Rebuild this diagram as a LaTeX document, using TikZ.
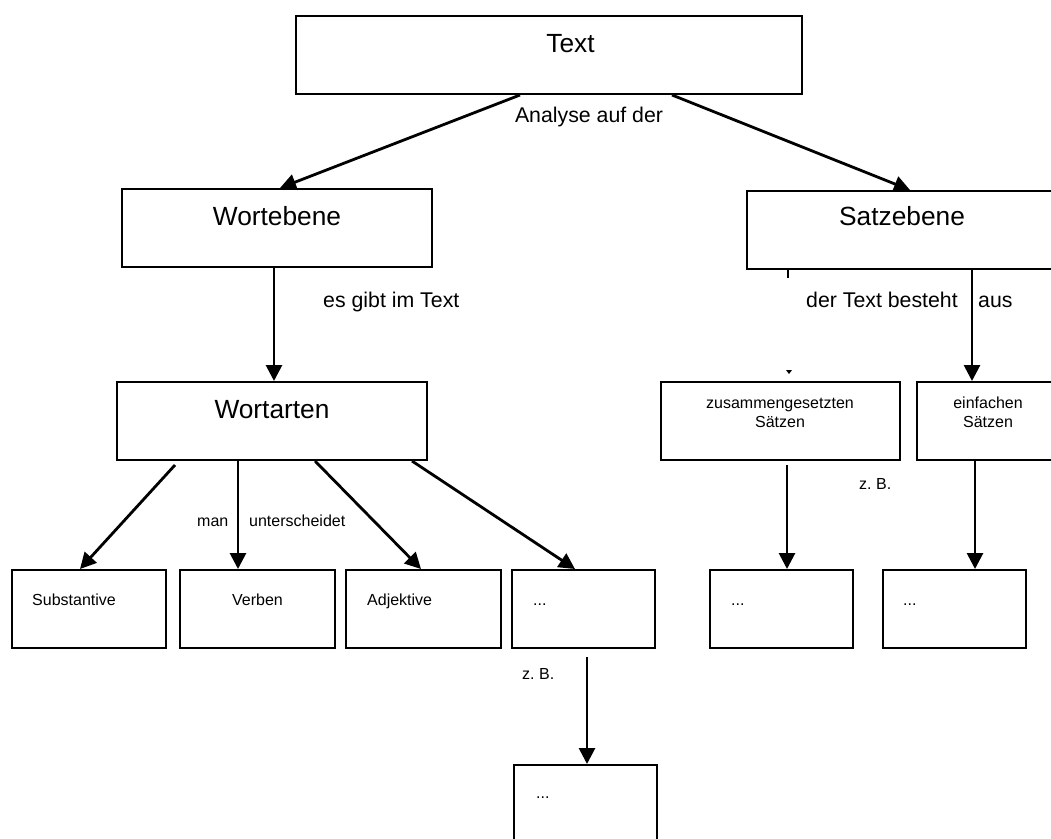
\documentclass[tikz,border=0pt]{standalone}
\usepackage{fontspec}
\setmainfont{Liberation Sans}
\usetikzlibrary{arrows.meta}

\tikzset{
  box/.style={draw, line width=2pt, rectangle, inner sep=0pt, minimum height=78pt},
  conn/.style={line width=2.8pt, -{Triangle[length=16pt,width=16pt]}},
  big/.style={font=\fontsize{26.3}{30}\selectfont, anchor=base, inner sep=0pt},
  mid/.style={font=\fontsize{21.3}{25}\selectfont, anchor=base west, inner sep=0pt},
  small/.style={font=\fontsize{16}{19}\selectfont, anchor=base west, inner sep=0pt},
}

\begin{document}
\begin{tikzpicture}[x=1pt, y=-1pt]
  \clip (0,0) rectangle (1051,838);
  \fill[white] (0,0) rectangle (1051,838);

  % boxes
  \node[box, minimum width=506pt] (text) at (549,55) {};
  \node[box, minimum width=310pt] (wortebene) at (277,228) {};
  \node[box, minimum width=311pt] (satz) at (902.5,230) {};
  \node[box, minimum width=310pt] (wortarten) at (272,421) {};
  \node[box, minimum width=239pt] (zus) at (780.5,421) {};
  \node[box, minimum width=142pt] (einf) at (988,421) {};
  \node[box, minimum width=154pt] (subst) at (89,609) {};
  \node[box, minimum width=155pt] (verben) at (257.5,609) {};
  \node[box, minimum width=155pt] (adj) at (423.5,609) {};
  \node[box, minimum width=143pt] (dotsA) at (583.5,609) {};
  \node[box, minimum width=143pt] (dotsB) at (781.5,609) {};
  \node[box, minimum width=143pt] (dotsC) at (954.5,609) {};
  \node[box, minimum width=143pt] (dotsD) at (585.5,804) {};

  % box texts
  \node[big] (tText) at (570.5,52) {Text};
  \node[big] (tWortebene) at (277,225) {Wortebene};
  \node[big] (tSatz) at (902,225) {Satzebene};
  \node[big] (tWortarten) at (272,418) {Wortarten};
  \node[small, anchor=base] (tZusA) at (780,408) {zusammengesetzten};
  \node[small, anchor=base] (tZusB) at (780,427) {Sätzen};
  \node[small, anchor=base] (tEinfA) at (988,408) {einfachen};
  \node[small, anchor=base] (tEinfB) at (988,427) {Sätzen};
  \node[small] (tSubst) at (32,605) {Substantive};
  \node[small, anchor=base] (tVerben) at (257.5,605) {Verben};
  \node[small] (tAdj) at (367,605) {Adjektive};
  \node[small] (tDotsA) at (533,605) {...};
  \node[small] (tDotsB) at (731,605) {...};
  \node[small] (tDotsC) at (903,605) {...};
  \node[small] (tDotsD) at (536,798) {...};

  % connector labels
  \node[mid, anchor=base] (lAnalyse) at (589,122) {Analyse auf der};
  \node[mid] (lGibt) at (323,307) {es gibt im Text};
  \node[mid] (lBesteht) at (806,307) {der Text besteht};
  \node[mid] (lAus) at (978,307) {aus};
  \node[small] (lMan) at (197,526) {man};
  \node[small] (lUnter) at (249,526) {unterscheidet};
  \node[small] (lZbA) at (522,679) {z.\ B.};
  \node[small] (lZbB) at (859,489) {z.\ B.};

  % connectors
  \draw[conn] ([xshift=-29pt]text.south) -- ([xshift=3pt]wortebene.north);
  \draw[conn] ([xshift=123pt]text.south) -- ([xshift=7.5pt]satz.north);
  \draw[conn] ([xshift=-3pt]wortebene.south) -- ([xshift=2pt]wortarten.north);
  \draw[conn] ([xshift=69.5pt]satz.south) -- ([xshift=-16pt]einf.north);
  \draw[line width=2.8pt] ([xshift=-114.5pt]satz.south) -- ([xshift=-114.5pt,yshift=-8pt]satz.south);
  \fill ([xshift=5.5pt,yshift=11pt]zus.north) -- ([xshift=11.5pt,yshift=11pt]zus.north)
        -- ([xshift=8.5pt,yshift=7pt]zus.north) -- cycle;

  \draw[conn] ([xshift=-97pt,yshift=-4pt]wortarten.south) -- ([xshift=-9pt]subst.north);
  \draw[conn] ([xshift=-34pt]wortarten.south) -- ([xshift=-19.5pt]verben.north);
  \draw[conn] ([xshift=43pt]wortarten.south) -- ([xshift=-2.5pt]adj.north);
  \draw[conn] ([xshift=140pt]wortarten.south) -- ([xshift=-8.5pt]dotsA.north);
  \draw[conn] ([xshift=6.5pt,yshift=-4pt]zus.south) -- ([xshift=5.5pt]dotsB.north);
  \draw[conn] ([xshift=-13pt]einf.south) -- ([xshift=20.5pt]dotsC.north);
  \draw[conn] ([xshift=3.5pt,yshift=-8pt]dotsA.south) -- ([xshift=1.5pt]dotsD.north);
\end{tikzpicture}
\end{document}
